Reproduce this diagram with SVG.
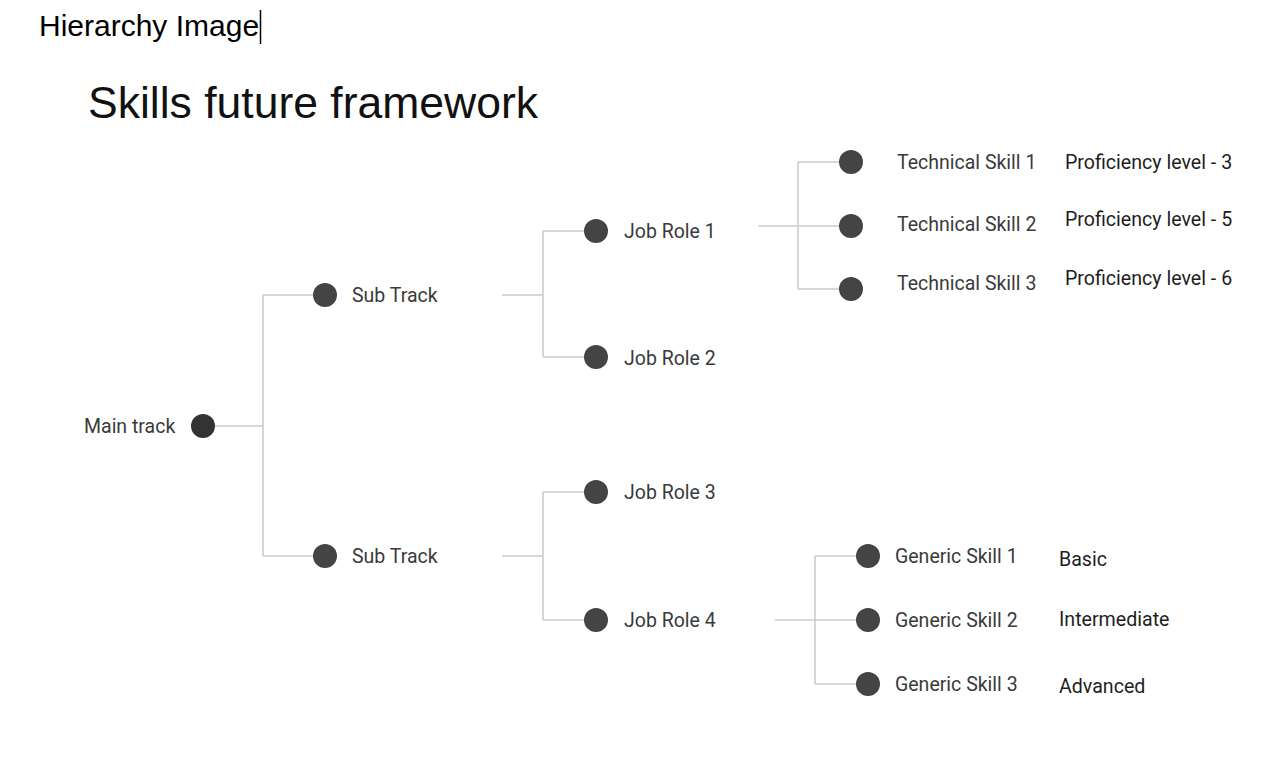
<svg xmlns="http://www.w3.org/2000/svg" width="1287" height="766" viewBox="0 0 1287 766">
<style>
.lbl{font-family:Roboto,"Liberation Sans",sans-serif;font-size:19.5px;fill:#3a3a3a}
.lvl{font-family:Roboto,"Liberation Sans",sans-serif;font-size:19.6px;fill:#1e1e1e}
.dot{fill:#444}
.conn{stroke:#cccccc;stroke-width:1.6;fill:none}
</style>
<rect width="1287" height="766" fill="#ffffff"/>
<text x="39" y="36" font-family="'Liberation Sans',Arial,sans-serif" font-size="30" fill="#000">Hierarchy Image</text>
<line x1="260.5" y1="10" x2="260.5" y2="44" stroke="#000" stroke-width="1.5"/>
<text x="88" y="118" font-family="'Liberation Sans',Arial,sans-serif" font-size="44.5" fill="#111">Skills future framework</text>
<g id="connectors">
<path class="conn" d="M215 426H263M263 295V556M263 295H313M263 556H313"/>
<path class="conn" d="M502 295H543M543 231V357M543 231H584M543 357H584"/>
<path class="conn" d="M502 556H543M543 492V620M543 492H584M543 620H584"/>
<path class="conn" d="M758 226H839M798 162V289M798 162H839M798 289H839"/>
<path class="conn" d="M775 620H856M815 556V684M815 556H856M815 684H856"/>
</g>
<g id="main-track"><circle cx="203" cy="426" r="12" fill="#333"/><text class="lbl" x="84" y="432.5">Main track</text></g>
<g id="sub-track-1"><circle class="dot" cx="325" cy="295" r="12"/><text class="lbl" x="352" y="301.5">Sub Track</text></g>
<g id="sub-track-2"><circle class="dot" cx="325" cy="556" r="12"/><text class="lbl" x="352" y="562.5">Sub Track</text></g>
<g id="job-role-1"><circle class="dot" cx="596" cy="231" r="12"/><text class="lbl" x="624" y="237.5">Job Role 1</text></g>
<g id="job-role-2"><circle class="dot" cx="596" cy="357" r="12"/><text class="lbl" x="624" y="364.5">Job Role 2</text></g>
<g id="job-role-3"><circle class="dot" cx="596" cy="492" r="12"/><text class="lbl" x="624" y="498.5">Job Role 3</text></g>
<g id="job-role-4"><circle class="dot" cx="596" cy="620" r="12"/><text class="lbl" x="624" y="626.5">Job Role 4</text></g>
<g id="technical-skill-1"><circle class="dot" cx="851" cy="162" r="12"/><text class="lbl" x="897" y="168.5">Technical Skill 1</text><text class="lvl" x="1065" y="168.5">Proficiency level - 3</text></g>
<g id="technical-skill-2"><circle class="dot" cx="851" cy="226" r="12"/><text class="lbl" x="897" y="230.5">Technical Skill 2</text><text class="lvl" x="1065" y="225.5">Proficiency level - 5</text></g>
<g id="technical-skill-3"><circle class="dot" cx="851" cy="289" r="12"/><text class="lbl" x="897" y="289.5">Technical Skill 3</text><text class="lvl" x="1065" y="284.5">Proficiency level - 6</text></g>
<g id="generic-skill-1"><circle class="dot" cx="868" cy="556" r="12"/><text class="lbl" x="895" y="562.5">Generic Skill 1</text><text class="lvl" x="1059" y="565.5">Basic</text></g>
<g id="generic-skill-2"><circle class="dot" cx="868" cy="620" r="12"/><text class="lbl" x="895" y="626.5">Generic Skill 2</text><text class="lvl" x="1059" y="625.5">Intermediate</text></g>
<g id="generic-skill-3"><circle class="dot" cx="868" cy="684" r="12"/><text class="lbl" x="895" y="690.5">Generic Skill 3</text><text class="lvl" x="1059" y="692.5">Advanced</text></g>
</svg>
